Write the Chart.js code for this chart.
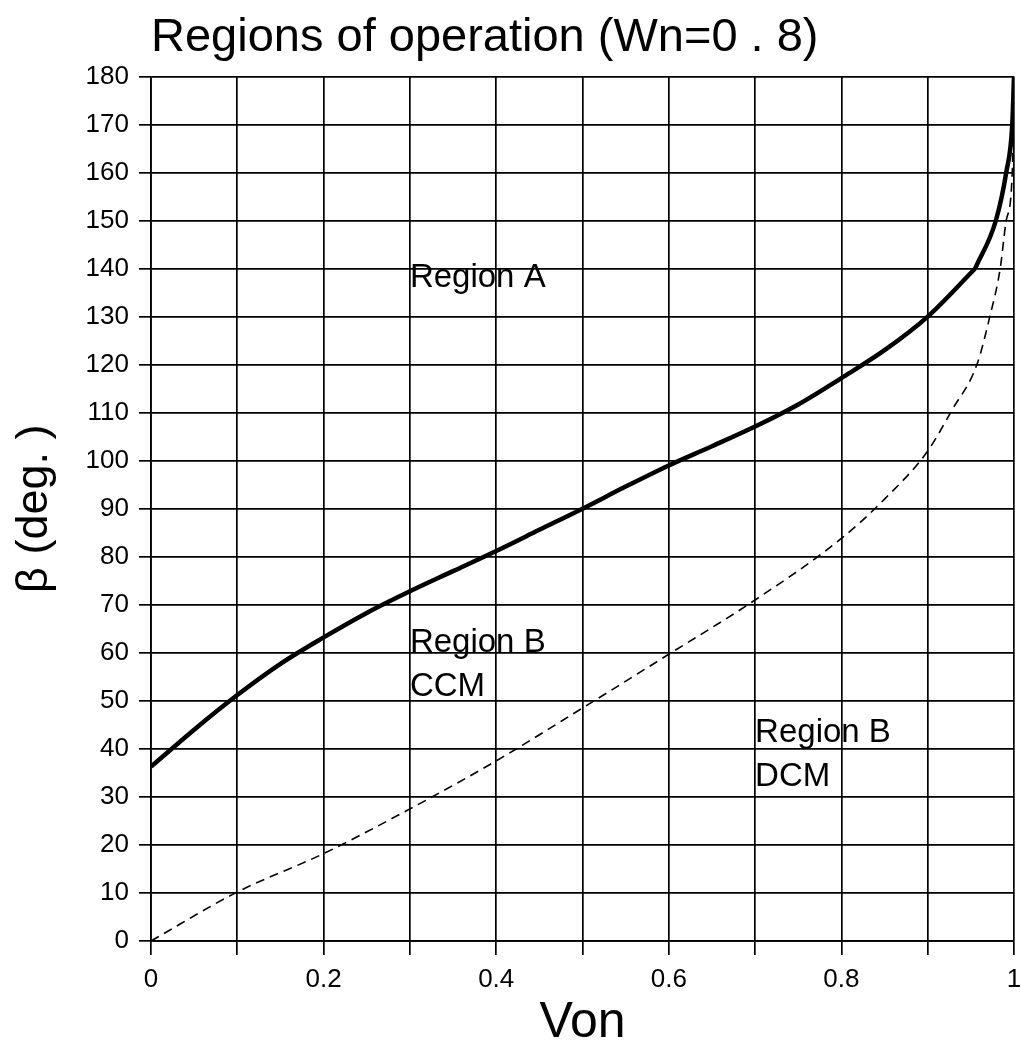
<!DOCTYPE html>
<html lang="en">
<head>
  <meta charset="UTF-8">
  <title>Regions of operation</title>
  <script src="https://cdn.jsdelivr.net/npm/chart.js"></script>
  <style>
    html, body { margin: 0; padding: 0; background: #fff; }
    #wrap { width: 1022px; height: 1053px; }
  </style>
</head>
<body>
  <div id="wrap"><canvas id="regionsChart"></canvas></div>

  <script>
    // boundary A/B (solid) : Von vs beta, corner at beta = 140
    const vonA  = [0, 0.05, 0.1, 0.15, 0.2, 0.25, 0.3, 0.35, 0.4, 0.45, 0.5, 0.55, 0.6, 0.65, 0.7, 0.75, 0.8, 0.85, 0.9, 0.955, 0.979, 0.991, 0.998, 1.0];
    const betaA = [36.3, 44.0, 51.2, 57.7, 63.2, 68.3, 72.8, 77, 81.2, 85.6, 90, 94.6, 99, 103.0, 107.1, 111.7, 117.2, 123, 130, 140, 150, 160, 170, 180];
    const cornerA = 19; // index of the corner point

    // boundary CCM/DCM (dashed)
    const vonB  = [0, 0.1, 0.2, 0.3, 0.4, 0.5, 0.6, 0.7, 0.8, 0.85, 0.9, 0.928, 0.957, 0.972, 0.984, 0.991, 0.998, 1.0];
    const betaB = [0, 10.2, 18.2, 27.5, 37.5, 48.5, 59.7, 71, 83.8, 92, 102, 110.5, 120, 130, 140, 150, 160, 180];

    // region labels: text lines and where they sit (Von, beta)
    const regionText = [['Region A'], ['Region B', 'CCM'], ['Region B', 'DCM']];
    const regionVon  = [0.3, 0.3, 0.7];
    const regionBeta = [138, 62, 43.3];

    const FONT = '"Liberation Sans", Arial, Helvetica, sans-serif';

    const toXY = (xs, ys) => xs.map((x, i) => ({ x: x, y: ys[i] }));

    // writes the region names inside the plot
    const regionLabels = {
      id: 'regionLabels',
      afterDatasetsDraw(chart) {
        const { ctx, scales } = chart;
        ctx.save();
        ctx.fillStyle = '#000';
        ctx.font = '33px ' + FONT;
        ctx.textAlign = 'left';
        ctx.textBaseline = 'middle';
        regionText.forEach((lines, i) => {
          const x = scales.x.getPixelForValue(regionVon[i]);
          const y = scales.y.getPixelForValue(regionBeta[i]);
          lines.forEach((t, j) => ctx.fillText(t, x, y + j * 44));
        });
        ctx.restore();
      }
    };

    const solidLine = {
      showLine: true,
      borderColor: '#000',
      borderWidth: 4.5,
      pointRadius: 0,
      cubicInterpolationMode: 'monotone',
      fill: false
    };

    const ctx = document.getElementById('regionsChart').getContext('2d');
    const chart = new Chart(ctx, {
      type: 'scatter',
      data: {
        datasets: [{
          ...solidLine,
          label: 'A / B boundary',
          data: toXY(vonA, betaA).slice(0, cornerA + 1)
        }, {
          ...solidLine,
          label: 'A / B boundary (upper)',
          data: toXY(vonA, betaA).slice(cornerA)
        }, {
          label: 'CCM / DCM boundary',
          data: toXY(vonB, betaB),
          showLine: true,
          borderColor: '#000',
          borderWidth: 1.6,
          borderDash: [9, 6],
          pointRadius: 0,
          cubicInterpolationMode: 'monotone',
          fill: false
        }]
      },
      options: {
        responsive: true,
        maintainAspectRatio: false,
        animation: false,
        layout: { padding: 0 },
        plugins: {
          legend: { display: false },
          tooltip: { enabled: false },
          title: {
            display: true,
            text: 'Regions of operation (Wn=0 . 8)',
            align: 'start',
            fullSize: false,
            color: '#000',
            font: { family: FONT, size: 47, weight: 'normal' },
            padding: { top: 10, bottom: 10 }
          }
        },
        scales: {
          x: {
            type: 'linear',
            min: 0,
            max: 1,
            afterFit: (s) => { s.height = 112; s.paddingRight = 8; },
            ticks: {
              stepSize: 0.1,
              autoSkip: false,
              maxRotation: 0,
              color: '#000',
              padding: 9,
              font: { family: FONT, size: 26 },
              callback: (v) => {
                const k = Math.round(v * 10);
                if (k % 2 !== 0) return '';
                if (k === 0) return '0';
                if (k === 10) return '1';
                return (k / 10).toFixed(1);
              }
            },
            grid: { color: '#000', lineWidth: 1.7, tickLength: 14, tickColor: '#000' },
            border: { color: '#000', width: 1.7 },
            title: {
              display: true,
              text: 'Von',
              color: '#000',
              font: { family: FONT, size: 50 },
              padding: { top: 0, bottom: 0 }
            }
          },
          y: {
            min: 0,
            max: 180,
            afterFit: (s) => { s.width = 151; },
            ticks: {
              stepSize: 10,
              color: '#000',
              padding: 10,
              font: { family: FONT, size: 26 }
            },
            grid: { color: '#000', lineWidth: 1.7, tickLength: 12, tickColor: '#000' },
            border: { color: '#000', width: 1.7 },
            title: {
              display: true,
              text: 'β (deg. )',
              color: '#000',
              font: { family: FONT, size: 45 },
              padding: { top: 8, bottom: 0 }
            }
          }
        }
      },
      plugins: [regionLabels]
    });
  </script>
</body>
</html>
